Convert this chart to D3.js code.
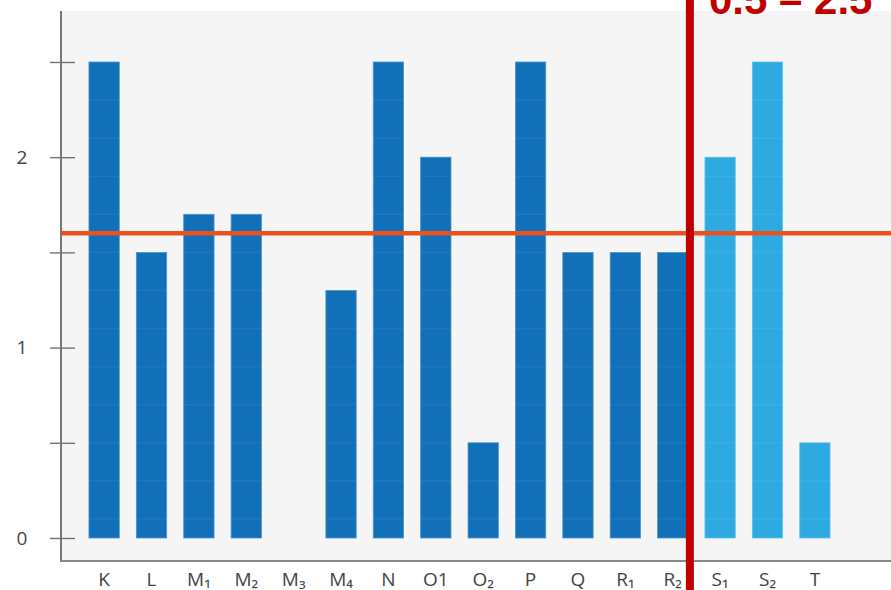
<!DOCTYPE html>
<html><head><meta charset="utf-8">
<script src="https://cdn.jsdelivr.net/npm/d3@7"></script>
<style>body{margin:0;background:#fff}svg{display:block}</style>
</head><body>
<svg id="c" width="891" height="590"></svg>
<script>
const categories = ["K","L","M₁","M₂","M₃","M₄","N","O1","O₂","P","Q","R₁","R₂","S₁","S₂","T"];
const values = [2.5,1.5,1.7,1.7,0,1.3,2.5,2.0,0.5,2.5,1.5,1.5,1.5,2.0,2.5,0.5];
const groups = ["a","a","a","a","a","a","a","a","a","a","a","a","a","b","b","b"];
const yTicks = [0,0.5,1,1.5,2,2.5];
const yLabels = {0:"0",1:"1",2:"2"};
const refValue = 1.6;
const rangeLabel = "0.5 – 2.5";
const stripeValues = [0.1,0.3,0.5,0.7,0.9,1.1,1.3,1.5,1.7,1.9,2.1,2.3];

const svg = d3.select("#c");
const W = 891, H = 590;
const plotLeft = 61, plotTop = 11, bottomAxis = 561;

const x = d3.scaleBand().domain(categories).range([61, 858]).paddingInner(0.36).paddingOuter(0.59);
const y = d3.scaleLinear().domain([0, 2.5]).range([538, 62]);

// background
svg.append("rect").attr("x", plotLeft).attr("y", plotTop).attr("width", W - plotLeft).attr("height", bottomAxis - plotTop).attr("fill", "#f5f5f5");

// bars
const colors = {a: "#1170b8", b: "#2eaae3"};
const strokes = {a: "#4a93cf", b: "#63c0ec"};
svg.append("g").selectAll("rect").data(categories).join("rect")
  .attr("x", d => x(d))
  .attr("y", (d, i) => y(values[i]))
  .attr("width", x.bandwidth())
  .attr("height", (d, i) => y(0) - y(values[i]))
  .attr("fill", (d, i) => colors[groups[i]])
  .attr("stroke", (d, i) => values[i] > 0 ? strokes[groups[i]] : "none")
  .attr("stroke-width", 0.8);

// faint stripes inside bars
const stripeG = svg.append("g");
categories.forEach((c, i) => {
  stripeValues.filter(v => v < values[i]).forEach(v => {
    stripeG.append("line")
      .attr("x1", x(c)).attr("x2", x(c) + x.bandwidth())
      .attr("y1", y(v)).attr("y2", y(v))
      .attr("stroke", "#ffffff").attr("stroke-opacity", 0.06).attr("stroke-width", 1.5);
  });
});

// y axis
const yAxis = d3.axisLeft(y).tickValues(yTicks).tickSize(0).tickFormat(d => yLabels[d] || "");
const gy = svg.append("g").attr("transform", `translate(${plotLeft},0)`).call(yAxis);
gy.select(".domain").remove();
gy.selectAll(".tick text").attr("x", -39).attr("font-family", "Open Sans, Noto Sans, sans-serif").attr("font-size", 19).attr("fill", "#444").attr("text-anchor", "middle");
gy.selectAll(".tick").append("line").attr("x1", -11).attr("x2", 14).attr("stroke", "#6b6b6b").attr("stroke-width", 1.3);
svg.append("line").attr("x1", plotLeft).attr("x2", plotLeft).attr("y1", plotTop).attr("y2", bottomAxis).attr("stroke", "#777").attr("stroke-width", 2);

// x axis
const xAxis = d3.axisBottom(x).tickSize(0);
const gx = svg.append("g").attr("transform", `translate(0,${bottomAxis})`).call(xAxis);
gx.select(".domain").remove();
gx.selectAll(".tick text").attr("y", 0).attr("dy", 0).attr("transform", "translate(0,25)")
  .attr("font-family", "Open Sans, Noto Sans, sans-serif").attr("font-size", 19).attr("fill", "#444");
svg.append("line").attr("x1", plotLeft - 1).attr("x2", W).attr("y1", bottomAxis).attr("y2", bottomAxis).attr("stroke", "#888").attr("stroke-width", 2);

// reference line
svg.append("line").attr("x1", plotLeft).attr("x2", W).attr("y1", y(refValue)).attr("y2", y(refValue))
  .attr("stroke", "#e8521f").attr("stroke-width", 4.5);

// divider
const divX = x("R₂") + x.bandwidth() + 2;
svg.append("line").attr("x1", divX).attr("x2", divX).attr("y1", 0).attr("y2", H)
  .attr("stroke", "#c00000").attr("stroke-width", 8);

svg.append("text").attr("x", 709).attr("y", 14).text(rangeLabel)
  .attr("font-family", "Liberation Sans, Arial, sans-serif").attr("font-weight", "bold")
  .attr("font-size", 42).attr("fill", "#c00000");
</script>
</body></html>
